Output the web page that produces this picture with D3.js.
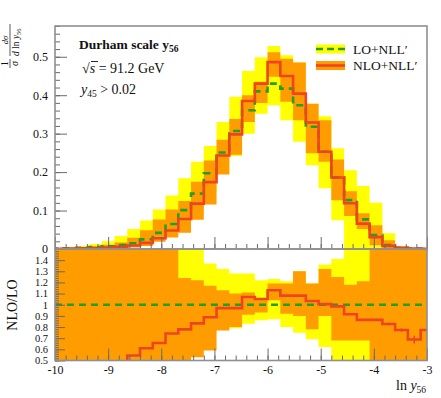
<!DOCTYPE html>
<html>
<head>
<meta charset="utf-8">
<script src="https://cdn.jsdelivr.net/npm/d3@7"></script>
<style>
  body { margin: 0; background: #fff; }
  text { font-family: "Liberation Serif", "DejaVu Serif", serif; fill: #111; }
</style>
</head>
<body>
<svg id="chart" width="441" height="398"></svg>
<script>
// Bin edges in ln y56 (last bin lies just outside the frame)
var binEdges = [-10.08, -9.84, -9.60, -9.36, -9.12, -8.88, -8.64, -8.40, -8.16, -7.92,
  -7.68, -7.44, -7.20, -6.96, -6.72, -6.48, -6.24, -6.00, -5.76, -5.52,
  -5.28, -5.04, -4.80, -4.56, -4.32, -4.08, -3.84, -3.60, -3.36, -3.12, -2.88, -2.64];

// Upper panel: distributions
var loNll = [0.001, 0.002, 0.003, 0.005, 0.007, 0.010, 0.015, 0.025, 0.042, 0.065,
  0.101, 0.144, 0.197, 0.251, 0.307, 0.361, 0.410, 0.430, 0.417, 0.374,
  0.318, 0.253, 0.186, 0.127, 0.077, 0.036, 0.010, 0.003, 0.001, 0.0005, 0];
var nloNll = [0.0005, 0.001, 0.0015, 0.002, 0.004, 0.006, 0.009, 0.016, 0.028, 0.048,
  0.078, 0.118, 0.174, 0.243, 0.298, 0.385, 0.430, 0.486, 0.450, 0.404,
  0.329, 0.253, 0.186, 0.119, 0.066, 0.031, 0.008, 0.003, 0.001, 0.0003, 0];
var loBandLow = [0.0005, 0.001, 0.0015, 0.002, 0.003, 0.005, 0.008, 0.014, 0.024, 0.040,
  0.065, 0.100, 0.145, 0.195, 0.242, 0.300, 0.352, 0.374, 0.335, 0.279,
  0.218, 0.158, 0.075, 0, 0, 0, 0, 0, 0, 0, 0];
var loBandHigh = [0.003, 0.005, 0.008, 0.013, 0.020, 0.034, 0.052, 0.074, 0.103, 0.139,
  0.184, 0.227, 0.268, 0.330, 0.396, 0.463, 0.499, 0.528, 0.504, 0.485,
  0.378, 0.345, 0.262, 0.205, 0.164, 0.120, 0.041, 0.008, 0.003, 0.001, 0];
var nloBandLow = [0, 0, 0, 0, 0.001, 0.002, 0.004, 0.008, 0.019, 0.030,
  0.042, 0.076, 0.116, 0.194, 0.245, 0.330, 0.380, 0.448, 0.383, 0.335,
  0.249, 0.227, 0.127, 0.086, 0.052, 0.010, 0, 0, 0, 0, 0];
var nloBandHigh = [0.002, 0.003, 0.005, 0.008, 0.011, 0.017, 0.029, 0.049, 0.077, 0.103,
  0.125, 0.175, 0.230, 0.284, 0.338, 0.400, 0.435, 0.512, 0.495, 0.485,
  0.378, 0.335, 0.233, 0.150, 0.093, 0.062, 0.023, 0.006, 0.002, 0.001, 0];

// Lower panel: ratio to LO+NLL'
var ratioNlo = [0.4, 0.4, 0.4, 0.4, 0.4, 0.4, 0.545, 0.61, 0.657, 0.742,
  0.779, 0.833, 0.888, 0.97, 0.97, 1.07, 1.052, 1.13, 1.082, 1.082,
  1.033, 1.006, 0.985, 0.915, 0.864, 0.864, 0.827, 0.773, 0.688, 0.773, 1.09];
var ratioErr = [0, 0, 0, 0, 0, 0, 0, 0, 0, 0,
  0, 0, 0, 0, 0, 0, 0, 0, 0, 0,
  0, 0, 0, 0.005, 0.008, 0.008, 0.012, 0.015, 0.035, 0, 0];
var ratioLoBandLow = [0.3, 0.3, 0.3, 0.3, 0.3, 0.3, 0.3, 0.3, 0.3, 0.3,
  0.64, 0.69, 0.74, 0.78, 0.79, 0.83, 0.86, 0.87, 0.80, 0.75,
  0.69, 0.62, 0.40, 0, 0, 0, 0, 0, 0, 0, 0];
var ratioLoBandHigh = [2, 2, 2, 2, 2, 2, 2, 2, 2, 2,
  1.82, 1.58, 1.37, 1.32, 1.28, 1.28, 1.22, 1.23, 1.21, 1.30,
  1.19, 1.36, 1.41, 1.61, 2.1, 3.3, 4, 4, 4, 4, 4];
var ratioNloBandLow = [0, 0, 0, 0, 0, 0, 0, 0, 0, 0,
  0.42, 0.53, 0.59, 0.77, 0.80, 0.91, 0.93, 1.04, 0.92, 0.90,
  0.78, 0.90, 0.68, 0.68, 0.68, 0.28, 0, 0, 0, 0, 0];
var ratioNloBandHigh = [3, 3, 3, 3, 3, 3, 3, 3, 3, 3,
  1.24, 1.22, 1.17, 1.13, 1.10, 1.11, 1.06, 1.19, 1.19, 1.30,
  1.19, 1.32, 1.25, 1.18, 1.21, 1.7, 4, 4, 4, 4, 4];

var xTicks = [-10, -9, -8, -7, -6, -5, -4, -3];
var topTicks = [0, 0.1, 0.2, 0.3, 0.4, 0.5];
var ratioTicks = [0.5, 0.6, 0.7, 0.8, 0.9, 1, 1.1, 1.2, 1.3, 1.4];

var colYellow = "#ffff00", colOrange = "#ff9c00", colGreen = "#23a023", colRed = "#ee4422";
var frameCol = "#8f8f8f", tickCol = "#6a6a6a";

var svg = d3.select("#chart");
var left = 55, right = 427, topY = 26, midY = 249, botY = 360.5;

var x = d3.scaleLinear().domain([-10, -3]).range([left, right]);
var yTop = d3.scaleLinear().domain([0, 0.58]).range([midY, topY]);
var yBot = d3.scaleLinear().domain([0.5, 1.5]).range([botY, midY]);

var bins = d3.range(binEdges.length - 1);

// clip paths
var defs = svg.append("defs");
defs.append("clipPath").attr("id", "clipTop").append("rect")
  .attr("x", left).attr("y", topY).attr("width", right - left).attr("height", midY - topY);
defs.append("clipPath").attr("id", "clipBot").append("rect")
  .attr("x", left).attr("y", midY).attr("width", right - left).attr("height", botY - midY);

function stepPts(vals) {
  var pts = bins.map(function(i) { return [binEdges[i], vals[i]]; });
  pts.push([binEdges[bins.length], vals[bins.length - 1]]);
  return pts;
}
function bandPts(lo, hi) {
  var pts = bins.map(function(i) { return [binEdges[i], lo[i], hi[i]]; });
  pts.push([binEdges[bins.length], lo[bins.length - 1], hi[bins.length - 1]]);
  return pts;
}

function drawPanel(g, y, bands, lines) {
  bands.forEach(function(b) {
    var area = d3.area().curve(d3.curveStepAfter)
      .x(function(d) { return x(d[0]); })
      .y0(function(d) { return y(d[1]); })
      .y1(function(d) { return y(d[2]); });
    g.append("path").attr("d", area(bandPts(b.lo, b.hi)))
      .attr("fill", b.color).attr("stroke", "none");
  });
  lines.forEach(function(l) {
    var line = d3.line().curve(d3.curveStepAfter)
      .x(function(d) { return x(d[0]); })
      .y(function(d) { return y(d[1]); });
    g.append("path").attr("d", line(stepPts(l.vals)))
      .attr("fill", "none").attr("stroke", l.color).attr("stroke-width", 2.6)
      .attr("stroke-dasharray", l.dash || null);
  });
}

// ---- upper panel
var gTop = svg.append("g").attr("clip-path", "url(#clipTop)");
drawPanel(gTop, yTop,
  [{lo: loBandLow, hi: loBandHigh, color: colYellow},
   {lo: nloBandLow, hi: nloBandHigh, color: colOrange}],
  [{vals: loNll, color: colGreen, dash: "7,5"},
   {vals: nloNll, color: colRed}]);

// ---- lower panel
var gBot = svg.append("g").attr("clip-path", "url(#clipBot)");
drawPanel(gBot, yBot,
  [{lo: ratioLoBandLow, hi: ratioLoBandHigh, color: colYellow},
   {lo: ratioNloBandLow, hi: ratioNloBandHigh, color: colOrange}],
  []);
gBot.append("line")
  .attr("x1", left).attr("x2", right).attr("y1", yBot(1)).attr("y2", yBot(1))
  .attr("stroke", colGreen).attr("stroke-width", 2.6).attr("stroke-dasharray", "7,5");
var ratioLine = d3.line().curve(d3.curveStepAfter)
  .x(function(d) { return x(d[0]); })
  .y(function(d) { return yBot(d[1]); });
gBot.append("path").attr("d", ratioLine(stepPts(ratioNlo)))
  .attr("fill", "none").attr("stroke", colRed).attr("stroke-width", 2.6);
gBot.selectAll(".err").data(bins.filter(function(i) { return ratioErr[i] > 0; }))
  .enter().append("line")
  .attr("x1", function(i) { return x((binEdges[i] + binEdges[i + 1]) / 2); })
  .attr("x2", function(i) { return x((binEdges[i] + binEdges[i + 1]) / 2); })
  .attr("y1", function(i) { return yBot(ratioNlo[i] - ratioErr[i]); })
  .attr("y2", function(i) { return yBot(ratioNlo[i] + ratioErr[i]); })
  .attr("stroke", colRed).attr("stroke-width", 1.5);

// ---- axes
function styleAxis(size) {
  return function(g) {
    g.select(".domain").remove();
    g.selectAll(".tick line").attr("stroke", tickCol).attr("stroke-width", 1);
    g.selectAll("text").style("font-family", '"Liberation Serif", "DejaVu Serif", serif')
      .style("font-size", size + "px").attr("fill", "#222");
  };
}
function minorVals(a, b, step) {
  var out = [];
  for (var v = a; v <= b + 1e-9; v += step) out.push(+v.toFixed(4));
  return out;
}

// upper left axis
svg.append("g").attr("transform", "translate(" + left + ",0)")
  .call(d3.axisLeft(yTop).tickValues(minorVals(0, 0.58, 0.02)).tickSize(-5).tickFormat(""))
  .call(styleAxis(12));
svg.append("g").attr("transform", "translate(" + left + ",0)")
  .call(d3.axisLeft(yTop).tickValues(topTicks).tickSize(-12).tickPadding(7)
    .tickFormat(function(d) { return d === 0 ? "0" : d.toFixed(1); }))
  .call(styleAxis(12));

// upper bottom ticks (shared x)
svg.append("g").attr("transform", "translate(0," + midY + ")")
  .call(d3.axisBottom(x).tickValues(minorVals(-10, -3, 0.2)).tickSize(-5).tickFormat(""))
  .call(styleAxis(12));
svg.append("g").attr("transform", "translate(0," + midY + ")")
  .call(d3.axisBottom(x).tickValues(xTicks).tickSize(-12).tickFormat(""))
  .call(styleAxis(12));

// lower left axis
svg.append("g").attr("transform", "translate(" + left + ",0)")
  .call(d3.axisLeft(yBot).tickValues(minorVals(0.5, 1.5, 0.02)).tickSize(-4).tickFormat(""))
  .call(styleAxis(10));
svg.append("g").attr("transform", "translate(" + left + ",0)")
  .call(d3.axisLeft(yBot).tickValues(ratioTicks).tickSize(-10).tickPadding(7)
    .tickFormat(function(d) { return String(+d.toFixed(1)); }))
  .call(styleAxis(10.5));

// lower bottom axis
svg.append("g").attr("transform", "translate(0," + botY + ")")
  .call(d3.axisBottom(x).tickValues(minorVals(-10, -3, 0.2)).tickSize(-5).tickFormat(""))
  .call(styleAxis(12));
svg.append("g").attr("transform", "translate(0," + botY + ")")
  .call(d3.axisBottom(x).tickValues(xTicks).tickSize(-12).tickPadding(5)
    .tickFormat(function(d) { return String(d); }))
  .call(styleAxis(12));

// frames
svg.append("rect").attr("x", left).attr("y", topY).attr("width", right - left).attr("height", midY - topY)
  .attr("fill", "none").attr("stroke", frameCol).attr("stroke-width", 1.6);
svg.append("rect").attr("x", left).attr("y", midY).attr("width", right - left).attr("height", botY - midY)
  .attr("fill", "none").attr("stroke", frameCol).attr("stroke-width", 1.6);

// ---- texts
var t1 = svg.append("text").attr("x", 79).attr("y", 49)
  .style("font-size", "13.5px").style("font-weight", "bold");
t1.append("tspan").text("Durham scale  y");
t1.append("tspan").attr("dy", 3).style("font-size", "9.5px").text("56");

var t2 = svg.append("text").attr("x", 82).attr("y", 73).style("font-size", "14px");
t2.append("tspan").text("\u221A");
t2.append("tspan").attr("font-style", "italic").text("s");
t2.append("tspan").text(" = 91.2 GeV");
svg.append("line").attr("x1", 91).attr("x2", 98).attr("y1", 61.5).attr("y2", 61.5)
  .attr("stroke", "#111").attr("stroke-width", 0.9);

var t3 = svg.append("text").attr("x", 81).attr("y", 94).style("font-size", "14px");
t3.append("tspan").attr("font-style", "italic").text("y");
t3.append("tspan").attr("dy", 3).style("font-size", "9.5px").text("45");
t3.append("tspan").attr("dy", -3).text(" > 0.02");

// legend
var legend = [
  {label: "LO+NLL\u2032", fill: colYellow, stroke: colGreen, dash: "7,4", y: 49},
  {label: "NLO+NLL\u2032", fill: colOrange, stroke: colRed, dash: null, y: 65.5}
];
legend.forEach(function(d) {
  svg.append("rect").attr("x", 316).attr("y", d.y - 4.5).attr("width", 29).attr("height", 9)
    .attr("fill", d.fill);
  svg.append("line").attr("x1", 316).attr("x2", 345).attr("y1", d.y).attr("y2", d.y)
    .attr("stroke", d.stroke).attr("stroke-width", 2.6).attr("stroke-dasharray", d.dash);
  svg.append("text").attr("x", 353).attr("y", d.y + 4.5).style("font-size", "13.5px").text(d.label);
});

// axis titles
var xt = svg.append("text").attr("x", 396).attr("y", 390).style("font-size", "14px");
xt.append("tspan").text("ln ");
xt.append("tspan").attr("font-style", "italic").text("y");
xt.append("tspan").attr("dy", 3).style("font-size", "9.5px").text("56");

svg.append("text").attr("transform", "translate(17,305) rotate(-90)")
  .attr("text-anchor", "middle").style("font-size", "14px").text("NLO/LO");

// upper y title: 1/sigma dsigma / d ln y56 (rotated fractions)
var yl = svg.append("g").attr("transform", "translate(10,68) rotate(-90)");
yl.append("text").attr("x", 4.5).attr("y", -2).attr("text-anchor", "middle").style("font-size", "9.5px").text("1");
yl.append("line").attr("x1", 0).attr("x2", 9).attr("y1", 0).attr("y2", 0).attr("stroke", "#111").attr("stroke-width", 0.7);
yl.append("text").attr("x", 4.5).attr("y", 8).attr("text-anchor", "middle").style("font-size", "10px")
  .attr("font-style", "italic").text("\u03C3");
yl.append("text").attr("x", 28).attr("y", -2).attr("text-anchor", "middle").style("font-size", "8.5px")
  .attr("font-style", "italic").text("d\u03C3");
yl.append("line").attr("x1", 12).attr("x2", 44).attr("y1", 0).attr("y2", 0).attr("stroke", "#111").attr("stroke-width", 0.7);
var dl = yl.append("text").attr("x", 12).attr("y", 8.5).style("font-size", "9.5px");
dl.append("tspan").attr("font-style", "italic").text("d");
dl.append("tspan").text(" ln ");
dl.append("tspan").attr("font-style", "italic").text("y");
dl.append("tspan").attr("dy", 2).style("font-size", "6.5px").text("56");
</script>
</body>
</html>
